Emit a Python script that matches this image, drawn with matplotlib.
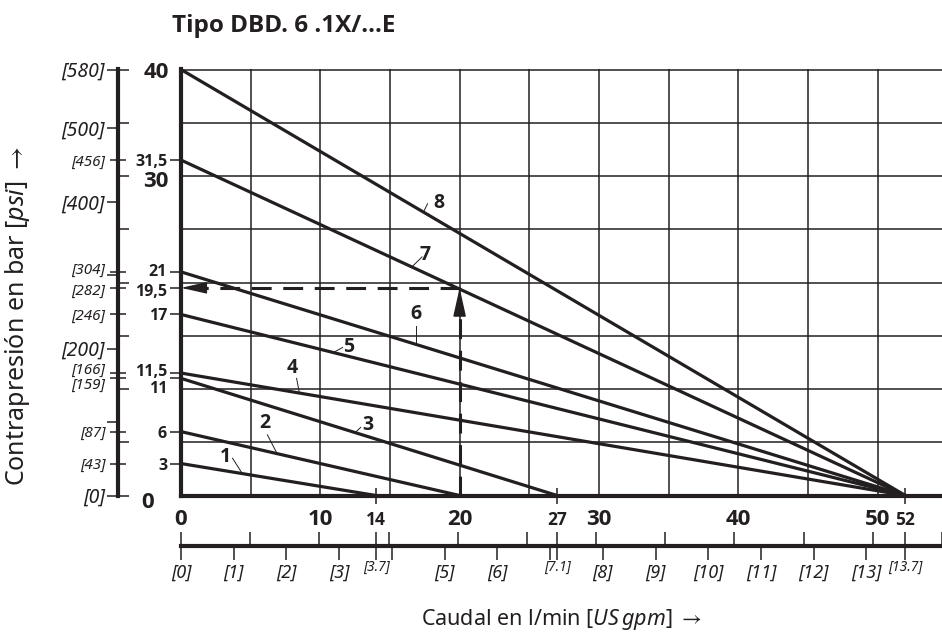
import numpy as np
import matplotlib
matplotlib.use('Agg')
import matplotlib.pyplot as plt
from matplotlib.transforms import ScaledTranslation

plt.rcParams['font.family'] = ['Noto Sans', 'DejaVu Sans']
plt.rcParams['mathtext.fontset'] = 'custom'
plt.rcParams['mathtext.rm'] = 'Noto Sans'
plt.rcParams['mathtext.it'] = 'Noto Sans:italic'
plt.rcParams['mathtext.fallback'] = 'stixsans'

ink = '#231f20'
BOLD = ['Open Sans', 'DejaVu Sans']
PSI = 14.5038
GPM = 3.785

# characteristic curves: pressure at zero flow (bar) -> flow at zero pressure (l/min)
curve_ids = ['1', '2', '3', '4', '5', '6', '7', '8']
p_start = [3, 6, 11, 11.5, 17, 21, 31.5, 40]
q_end = [14, 20, 27, 52, 52, 52, 52, 52]

# curve number labels and their leader lines (l/min, bar)
lab_x = [3.2, 6.0, 13.4, 8.0, 12.0, 16.9, 17.5, 18.5]
lab_y = [3.6, 6.8, 6.6, 12.0, 13.9, 17.0, 22.6, 27.5]
lead_x0 = [3.7, 6.2, 12.9, 8.3, 11.6, 16.9, 17.3, 17.7]
lead_y0 = [3.5, 5.7, 6.4, 11.0, 13.9, 15.9, 22.4, 27.4]
lead_x1 = [4.4, 6.9, 12.5, 8.5, 10.9, 16.9, 16.6, 17.4]
lead_y1 = [2.06, 3.93, 5.9, 9.6, 13.4, 14.2, 21.5, 26.6]

# example reading
q_op = 20
p_op = 19.5

# axis marks
bar_marks = [3, 6, 11, 11.5, 17, 19.5, 21, 31.5]
bar_mark_labels = ['3', '6', '11', '11,5', '17', '19,5', '21', '31,5']
bar_main = [0, 30, 40]
psi_mark_labels = ['[43]', '[87]', '[159]', '[166]', '[246]', '[282]', '[304]', '[456]']
psi_round = [0, 100, 200, 300, 400, 500, 580]
psi_round_labels = ['[0]', '', '[200]', '', '[400]', '[500]', '[580]']
q_main = [0, 10, 20, 30, 40, 50]
q_marks = [14, 27, 52]
gpm_ticks = list(range(14))
gpm_labels = ['[0]', '[1]', '[2]', '[3]', '', '[5]', '[6]', '', '[8]', '[9]', '[10]', '[11]', '[12]', '[13]']
gpm_mark_labels = ['[3.7]', '[7.1]', '[13.7]']

grid_q = np.arange(0, 56, 5)
grid_p = np.arange(0, 41, 5)

W, H = 942, 632
fig = plt.figure(figsize=(W / 100, H / 100), dpi=100)
x_max = (W - 181) / 13.93
y_max = 40.05
ax = fig.add_axes([181 / W, 136.5 / H, (W - 181) / W, 426.5 / H])
ax.set_xlim(0, x_max)
ax.set_ylim(0, y_max)

for g in grid_q:
    ax.axvline(g, color=ink, lw=1.1, zorder=1)
for g in grid_p:
    ax.axhline(g, color=ink, lw=1.1, zorder=1)

for i in range(len(curve_ids)):
    ax.plot([0, q_end[i]], [p_start[i], 0], color=ink, lw=2.3, zorder=3, solid_capstyle='butt')
    ax.plot([lead_x0[i], lead_x1[i]], [lead_y0[i], lead_y1[i]], color=ink, lw=0.7, zorder=3)
    ax.text(lab_x[i], lab_y[i], curve_ids[i], fontsize=14, fontweight='bold', family=BOLD,
            color=ink, ha='center', va='center', zorder=4)

# dashed reading lines with arrow heads
dash = (0, (6.5, 3.8))
ax.plot([q_op, q_op], [0, p_op - 2.0], color=ink, lw=2.2, ls=dash, zorder=3)
ax.plot([q_op, 1.4], [p_op, p_op], color=ink, lw=2.2, ls=dash, zorder=3)
ax.annotate('', xy=(q_op, p_op), xytext=(q_op, p_op - 2.4),
            arrowprops=dict(arrowstyle='-|>,head_length=0.9,head_width=0.2', color=ink,
                            lw=1, shrinkA=0, shrinkB=0, mutation_scale=20), zorder=4)
ax.annotate('', xy=(0, p_op), xytext=(1.7, p_op),
            arrowprops=dict(arrowstyle='-|>,head_length=0.8,head_width=0.18', color=ink,
                            lw=1, shrinkA=0, shrinkB=0, mutation_scale=20), zorder=4)

for s in ['top', 'right']:
    ax.spines[s].set_visible(False)
for s in ['left', 'bottom']:
    ax.spines[s].set_linewidth(3)
    ax.spines[s].set_color(ink)
    ax.spines[s].set_zorder(5)

# bar ticks on main axis
ax.set_yticks(bar_marks)
ax.set_yticklabels(bar_mark_labels)
ax.set_yticks(bar_main, minor=True)
ax.set_yticklabels([str(v) for v in bar_main], minor=True)
ax.tick_params(axis='y', which='major', direction='out', length=8, width=1.1, color=ink,
               pad=2, labelsize=11.5, labelcolor=ink)
ax.tick_params(axis='y', which='minor', direction='out', length=0, pad=9, labelsize=16,
               labelcolor=ink)
for lab in ax.get_yticklabels() + ax.get_yticklabels(minor=True):
    lab.set_fontweight('bold')
    lab.set_family(BOLD)

# l/min ticks on main axis
ax.set_xticks(q_main)
ax.set_xticklabels([str(v) for v in q_main])
ax.set_xticks(q_marks, minor=True)
ax.set_xticklabels([str(v) for v in q_marks], minor=True)
ax.tick_params(axis='x', which='major', length=0, pad=10, labelsize=16, labelcolor=ink)
ax.tick_params(axis='x', which='minor', direction='inout', length=12, width=1.1, color=ink,
               pad=5, labelsize=12.5, labelcolor=ink)
for lab in ax.get_xticklabels() + ax.get_xticklabels(minor=True):
    lab.set_fontweight('bold')
    lab.set_family(BOLD)

# psi axis
ax_psi = ax.twinx()
ax_psi.set_ylim(0, y_max * PSI)
for s in ['top', 'right', 'bottom']:
    ax_psi.spines[s].set_visible(False)
ax_psi.spines['left'].set_visible(True)
ax_psi.spines['left'].set_position(('outward', 63 * 0.72))
ax_psi.spines['left'].set_linewidth(3)
ax_psi.spines['left'].set_color(ink)
ax_psi.yaxis.set_ticks_position('left')
ax_psi.set_yticks(psi_round)
ax_psi.set_yticklabels(psi_round_labels)
ax_psi.set_yticks([b * PSI for b in bar_marks], minor=True)
ax_psi.set_yticklabels(psi_mark_labels, minor=True)
ax_psi.tick_params(axis='y', which='major', direction='out', length=8, width=1.1, color=ink,
                   pad=1.5, labelsize=14, labelcolor=ink)
ax_psi.tick_params(axis='y', which='minor', direction='inout', length=11, width=1.1, color=ink,
                   pad=3.5, labelsize=11, labelcolor=ink)
for lab in ax_psi.get_yticklabels() + ax_psi.get_yticklabels(minor=True):
    lab.set_fontstyle('italic')

# bar grid ticks on the psi axis line
ax_bg = ax.twinx()
ax_bg.set_ylim(0, y_max)
for s in ax_bg.spines:
    ax_bg.spines[s].set_visible(False)
ax_bg.spines['left'].set_position(('outward', 63 * 0.72))
ax_bg.yaxis.set_ticks_position('left')
ax_bg.set_yticks(grid_p)
ax_bg.tick_params(axis='y', direction='in', length=8, width=1.1, color=ink, labelleft=False)

# gpm axis
ax_gpm = ax.twiny()
ax_gpm.set_xlim(0, x_max)
for s in ['top', 'right', 'left']:
    ax_gpm.spines[s].set_visible(False)
ax_gpm.spines['bottom'].set_visible(True)
ax_gpm.spines['bottom'].set_position(('outward', 50 * 0.72))
ax_gpm.spines['bottom'].set_linewidth(3)
ax_gpm.spines['bottom'].set_color(ink)
ax_gpm.xaxis.set_ticks_position('bottom')
ax_gpm.xaxis.set_label_position('bottom')
ax_gpm.set_xticks([g * GPM for g in gpm_ticks])
ax_gpm.set_xticklabels(gpm_labels)
ax_gpm.set_xticks(q_marks, minor=True)
ax_gpm.set_xticklabels(gpm_mark_labels, minor=True)
ax_gpm.tick_params(axis='x', which='major', direction='out', length=10, width=1.1, color=ink,
                   pad=3, labelsize=13, labelcolor=ink)
ax_gpm.tick_params(axis='x', which='minor', direction='inout', length=20, width=1.1, color=ink,
                   pad=0.5, labelsize=10, labelcolor=ink)
for lab in ax_gpm.get_xticklabels() + ax_gpm.get_xticklabels(minor=True):
    lab.set_fontstyle('italic')
ax_gpm.set_xlabel('Caudal en l/min $\\mathit{[US\\,gpm]}\\;\\rightarrow$', fontsize=15.5,
                  color=ink, labelpad=18)

# l/min grid ticks on the gpm axis line
ax_qg = ax.twiny()
ax_qg.set_xlim(0, x_max)
for s in ax_qg.spines:
    ax_qg.spines[s].set_visible(False)
ax_qg.spines['bottom'].set_position(('outward', 50 * 0.72))
ax_qg.xaxis.set_ticks_position('bottom')
ax_qg.set_xticks(grid_q)
ax_qg.tick_params(axis='x', direction='in', length=10, width=1.1, color=ink, labelbottom=False)

# nudge crowded labels apart
def nudge(label, dx, dy):
    label.set_transform(label.get_transform() + ScaledTranslation(dx / 100, dy / 100, fig.dpi_scale_trans))

bar_labs = ax.yaxis.get_majorticklabels()
nudge(bar_labs[2], 0, -9)
nudge(bar_labs[3], 0, 3)
nudge(bar_labs[5], 0, -2)
nudge(bar_labs[6], 0, 2)
nudge(ax.yaxis.get_minorticklabels()[0], -15, -5)
nudge(ax.yaxis.get_minorticklabels()[1], 0, -3)
psi_labs = ax_psi.yaxis.get_minorticklabels()
nudge(psi_labs[2], 0, -5)
nudge(psi_labs[3], 0, 5)
nudge(psi_labs[5], 0, -2)
nudge(psi_labs[6], 0, 3)

fig.text(18 / W, 1 - 316 / H, 'Contrapresión en bar $\\mathit{[psi]}$ $\\rightarrow$',
         rotation=90, fontsize=18, color=ink, ha='center', va='center')
fig.text(172 / W, 1 - 31.5 / H, 'Tipo DBD. 6 .1X/...E', fontsize=17.5, fontweight='bold',
         family=BOLD, color=ink, ha='left', va='baseline')

fig.savefig('out.png', dpi=100)
